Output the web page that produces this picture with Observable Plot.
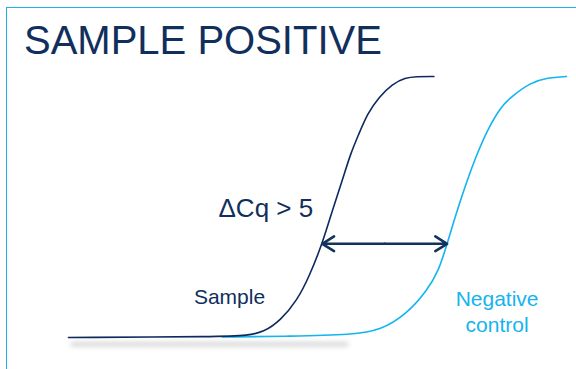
<!DOCTYPE html>
<html><head><meta charset="utf-8">
<script src="https://cdn.jsdelivr.net/npm/d3@7"></script>
<script src="https://cdn.jsdelivr.net/npm/@observablehq/plot@0.6"></script>
<style>
html,body{margin:0;padding:0;background:#fff;overflow:hidden}
#wrap{position:relative;width:576px;height:369px;overflow:hidden}
#border{position:absolute;left:6px;top:7px;width:640px;height:420px;border-left:1.6px solid #22b2ea;border-top:1.6px solid #22b2ea;box-sizing:border-box}
#wrap svg{position:absolute;left:0;top:0}
.shadow{filter:blur(2.5px)}
</style></head><body><div id="wrap"><div id="border"></div></div>
<script>
// Amplification curves (cycle vs. relative fluorescence, 0-100)
const sampleCycle = [0, 7.7, 8.94, 9.75, 10.6, 11.43, 12.02, 12.69, 13.19, 13.69, 14.1, 14.52, 14.94, 15.52, 16.19, 16.85, 17.35, 18.27];
const sampleRfu   = [0, 0.3, 0.8, 2.0, 6.5, 14.2, 23.1, 35.9, 48.7, 60.2, 70.4, 78.0, 85.7, 92.1, 97.2, 99.5, 100, 100];
const negCycle = [7.7, 11.1, 14.25, 15.6, 16.93, 17.93, 18.52, 18.93, 19.43, 19.93, 20.43, 20.93, 21.6, 22.1, 23.1, 23.95, 24.9];
const negRfu   = [0.2, 0.45, 1.1, 2.7, 9.1, 18.0, 25.7, 35.9, 48.7, 60.2, 70.4, 79.3, 88.2, 92.0, 97.7, 99.6, 100];
// Threshold crossings (Cq) and the threshold level
const cqSample = 12.69;
const cqNegative = 18.93;
const threshold = 35.9;
// Texts
const titleText = "SAMPLE POSITIVE";
const deltaLabel = "\u0394Cq > 5";
const sampleLabel = "Sample";
const negLabel = ["Negative", "control"];

const navy = "#0c2a5e";
const navyText = "#112f5c";
const lightBlue = "#14b4ec";

const sample = sampleCycle.map((c, i) => ({cycle: c, rfu: sampleRfu[i]}));
const negative = negCycle.map((c, i) => ({cycle: c, rfu: negRfu[i]}));
const mid = (cqSample + cqNegative) / 2;
const arrows = [
  {x1: mid, x2: cqSample, y: threshold},
  {x1: mid, x2: cqNegative, y: threshold}
];
const shadow = [{cycle: 0.2, rfu: -2.6}, {cycle: 13.9, rfu: -2.6}];

const chart = Plot.plot({
  width: 576,
  height: 369,
  marginLeft: 68,
  marginRight: 8,
  marginTop: 76,
  marginBottom: 32,
  style: {fontFamily: "'Liberation Sans', Arial, sans-serif", background: "transparent", overflow: "visible"},
  x: {domain: [0, 25], axis: null},
  y: {domain: [0, 100], axis: null},
  marks: [
    Plot.line(shadow, {x: "cycle", y: "rfu", stroke: "#9a9a9a", strokeWidth: 4, strokeOpacity: 0.45, className: "shadow"}),
    Plot.line(negative, {x: "cycle", y: "rfu", stroke: lightBlue, strokeWidth: 1.6, curve: "basis"}),
    Plot.line(sample, {x: "cycle", y: "rfu", stroke: navy, strokeWidth: 1.6, curve: "basis"}),
    Plot.arrow(arrows, {x1: "x1", x2: "x2", y1: "y", y2: "y", stroke: "#13335f", strokeWidth: 2.6, headAngle: 64, headLength: 8}),
    Plot.text([titleText], {frameAnchor: "top-left", dx: -44.5, dy: -51, lineAnchor: "top", textAnchor: "start", fontSize: 40, fill: navyText}),
    Plot.text([deltaLabel], {x: [7.5], y: [49.5], textAnchor: "start", lineAnchor: "middle", fontSize: 26, fill: navyText}),
    Plot.text([sampleLabel], {x: [8.05], y: [15.6], textAnchor: "middle", lineAnchor: "middle", fontSize: 21, fill: navyText}),
    Plot.text([negLabel[0]], {x: [21.43], y: [14.7], textAnchor: "middle", lineAnchor: "middle", fontSize: 21, fill: lightBlue}),
    Plot.text([negLabel[1]], {x: [21.43], y: [4.75], textAnchor: "middle", lineAnchor: "middle", fontSize: 21, fill: lightBlue})
  ]
});
document.getElementById("wrap").appendChild(chart);
</script>
</body></html>
